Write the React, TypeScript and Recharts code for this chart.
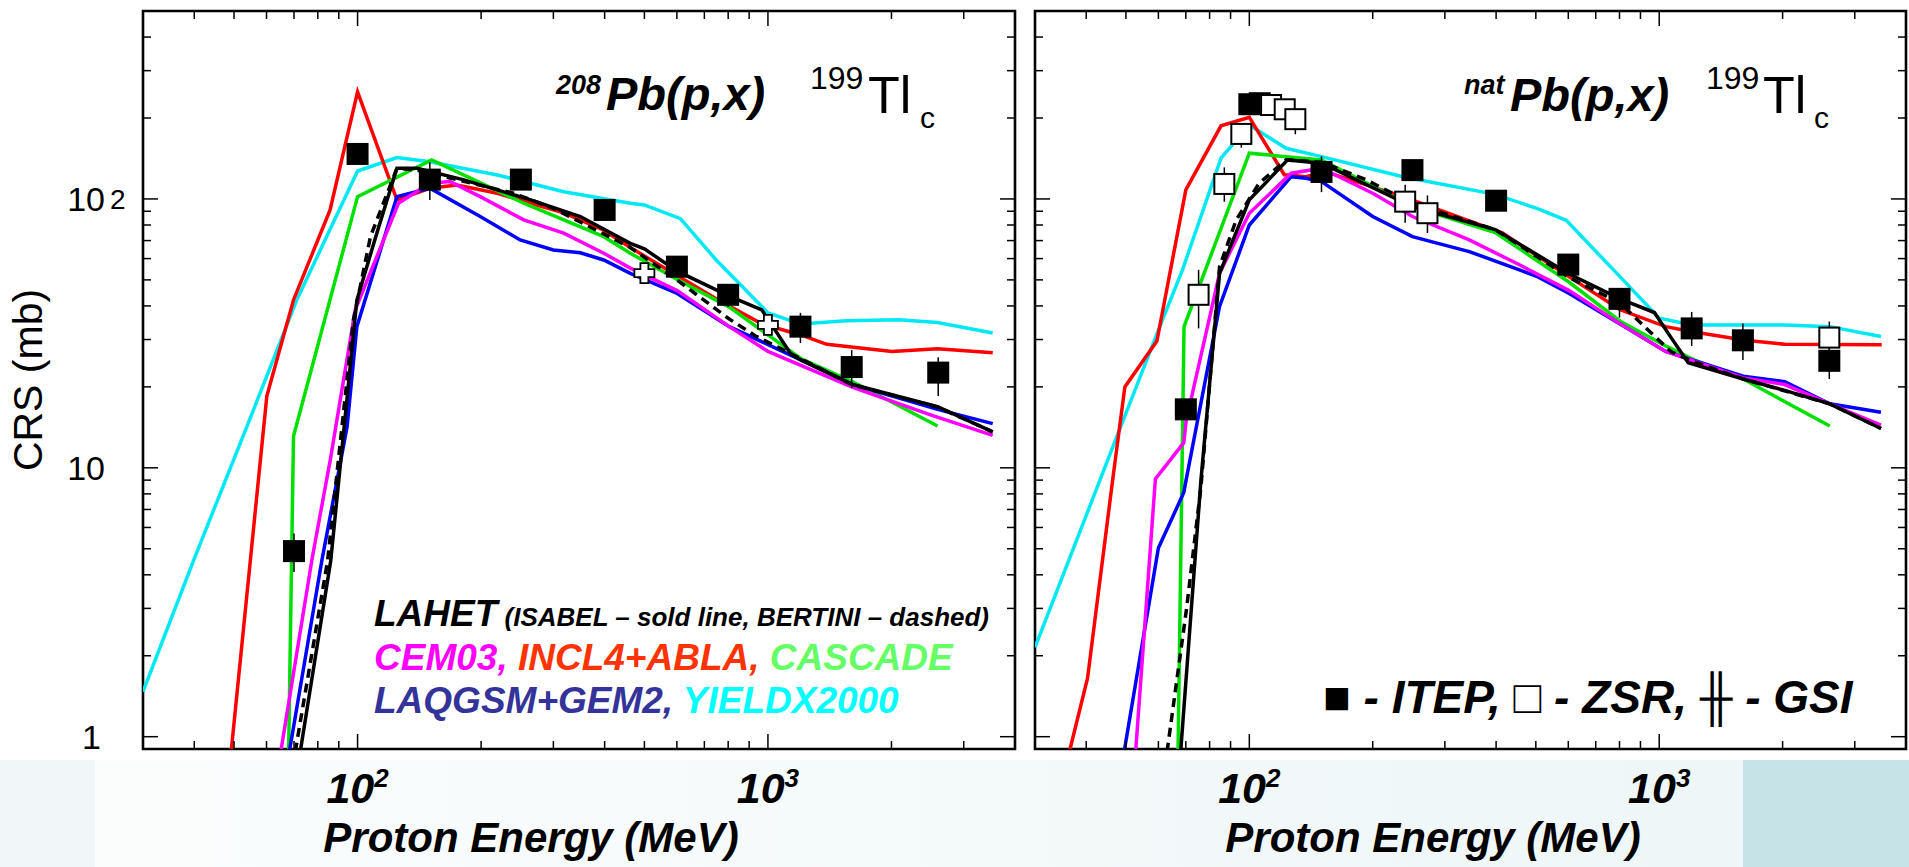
import React from 'react';
import { ComposedChart, Line, Scatter, XAxis, YAxis, ErrorBar, ReferenceArea } from 'recharts';

const FONT = '"Liberation Sans", Arial, Helvetica, sans-serif';

type P = [number, number];
type D = [number, number, number, number]; // energy, crs, err low, err high

// energy axis / crs axis
const xDomain = [30, 4000];
const yDomain = [0.9, 500];
const xTicks = [40, 50, 60, 70, 80, 90, 100, 200, 300, 400, 500, 600, 700, 800, 900, 1000, 2000, 3000];
const yTicks = [1, 2, 3, 4, 5, 6, 7, 8, 9, 10, 20, 30, 40, 50, 60, 70, 80, 90, 100, 200, 300, 400];

// ---- 208Pb(p,x) 199Tl ----
const isabelA: P[] = [[72.5, 0.88], [86, 4.5], [99.6, 42], [111.4, 74.6], [124.7, 130], [139.6, 130], [181.6, 117.7], [264, 99.2], [349, 86], [462, 68.4], [500, 65.2], [601, 53.9], [805, 43.5], [966, 38.7], [1137, 26.5], [1202, 25.2], [1610, 20.4], [2590, 16.9], [3530, 13.6]];
const bertiniA: P[] = [[70.5, 0.88], [84.5, 4.5], [97.7, 35.5], [107.5, 72.4], [124.7, 130], [139.6, 128], [206, 111], [240, 105], [300, 92.3], [462, 66], [600, 50], [800, 36], [931, 31], [1200, 25.5], [1600, 20.4], [2600, 16.8], [3530, 13.6]];
const cemA: P[] = [[65, 0.88], [77.4, 4.55], [85.8, 10.7], [98.7, 38.7], [125.8, 96.4], [150, 114.4], [168, 116], [199, 102], [254, 83.6], [318, 74.6], [398, 62.8], [462, 55.3], [601, 45.6], [805, 33.5], [1000, 27.1], [1610, 19.9], [2500, 15.7], [3530, 13.2]];
const inclA: P[] = [[49.2, 0.88], [60.1, 18.5], [69.8, 42.1], [85.7, 91], [100, 250], [124.7, 99.2], [150, 109.6], [174.6, 112.7], [219, 105], [264, 96.4], [318, 88.7], [397, 76.7], [463, 65.8], [519, 59.3], [748, 42.5], [966, 34.3], [1202, 31.2], [1391, 28.8], [2006, 27.1], [2589, 27.7], [3531, 26.8]];
const cascadeA: P[] = [[67.9, 0.85], [69.8, 13.1], [100, 102], [151.6, 139.7], [254, 96.4], [398, 72.4], [462, 62.8], [601, 50.2], [805, 39.6], [1202, 25.5], [1610, 20.9], [2590, 14.3]];
const laqgsmA: P[] = [[68.2, 0.88], [81.9, 4.55], [94.3, 14.2], [99.6, 33.5], [124.7, 102], [150, 109.6], [199, 86], [249, 70.4], [300, 64.6], [349, 63.1], [398, 59.3], [462, 52.9], [601, 44.5], [805, 33.5], [1202, 25.2], [1610, 20.4], [2590, 16.5], [3530, 14.6]];
const yieldxA: P[] = [[30, 1.47], [39.9, 4.55], [53.7, 14.2], [71.1, 42.1], [100, 127], [124.7, 142.5], [150, 137.6], [219, 122.8], [318, 106.4], [462, 96.4], [500, 95], [612, 84.5], [748, 59.3], [1000, 37.7], [1202, 34.3], [1552, 35.2], [2080, 35.5], [2590, 34.7], [3530, 31.7]];
const itepA: D[] = [[70, 4.9, 0.8, 0.8], [100, 147, 0, 0], [150, 118, 19, 19], [250, 118, 6, 6], [400, 91, 8, 5], [600, 56, 5, 5], [800, 44, 4.4, 2.5], [1200, 33.5, 4.4, 4.2], [1600, 23.7, 3.9, 3.7], [2600, 22.6, 4.1, 3.2]];
const gsiA: P[] = [[500, 53], [1000, 34]];

// ---- natPb(p,x) 199Tl ----
const isabelB: P[] = [[68, 0.88], [76.2, 9.0], [84.6, 52.9], [100, 99.2], [124, 139.7], [150, 135.8], [250, 93.6], [398, 76.9], [603, 52.6], [803, 42.5], [973, 37.8], [1069, 30.5], [1177, 24.6], [1603, 21.4], [2024, 19.4], [2607, 17.3], [3475, 14.0]];
const bertiniB: P[] = [[63, 0.88], [70.3, 3.0], [76.2, 8.5], [84.6, 56], [92.9, 83.6], [105.7, 114.4], [123, 139.7], [150, 137], [193, 117.7], [250, 96], [398, 77], [603, 51], [803, 41], [931, 33], [1069, 27], [1200, 25], [1603, 21.4], [2607, 17.3], [3475, 14.0]];
const cemB: P[] = [[52.8, 0.88], [59, 9.1], [69.2, 12.4], [70.1, 14.9], [84.6, 52.9], [100, 88.5], [126.5, 124.6], [150, 130], [200, 105], [250, 86], [344, 70.4], [456, 56.9], [603, 45.6], [803, 34.3], [1037, 27.1], [1603, 21.6], [2024, 20.4], [2607, 17.3], [3475, 14.4]];
const inclB: P[] = [[36.4, 0.88], [40.3, 1.65], [46.4, 9.0], [49.7, 20], [59.5, 29.6], [70, 108], [85.3, 187], [100, 201], [121.7, 123], [137.4, 121], [153.8, 126], [237, 102], [415, 74.6], [603, 51.3], [803, 38.7], [1037, 33.5], [1216, 32], [1620, 29.8], [2024, 28.8], [3490, 28.7]];
const cascadeB: P[] = [[67, 0.88], [69.3, 33.5], [100, 147.9], [150, 139.7], [250, 93.6], [398, 75], [603, 49], [803, 35.1], [1037, 28.4], [1216, 25.2], [1603, 21.4], [2606, 14.3]];
const laqgsmB: P[] = [[49.5, 0.88], [60, 5.03], [69.2, 8.09], [70.1, 9.0], [84.6, 39.8], [100, 80], [126.5, 121], [137.4, 119.4], [150, 116], [200, 86], [250, 72.4], [344, 63.7], [456, 54.5], [506, 51.3], [603, 44.5], [1037, 27.1], [1603, 21.9], [2024, 20.9], [2607, 17.3], [3475, 16.1]];
const yieldxB: P[] = [[30, 2.15], [48, 13.6], [60, 32.5], [68.7, 54.5], [85.3, 141.7], [100, 188.4], [123, 154.3], [150, 143.7], [237, 121], [398, 104], [505, 92], [593, 83.3], [803, 51.3], [1000, 36], [1203, 34], [2024, 34], [2607, 33.5], [3475, 30.8]];
const itepB: D[] = [[70, 16.5, 0, 0], [100, 225, 0, 0], [150, 126, 20, 18], [250, 128, 0, 0], [400, 98.5, 0, 0], [600, 57, 4, 4], [800, 42.5, 6.3, 4], [1200, 33, 4.6, 5], [1600, 29.8, 4.6, 4.6], [2600, 25, 3.6, 3.4]];
const zsrB: D[] = [[75.2, 44, 11, 10.5], [86.9, 113.7, 16.1, 17.3], [95.6, 174.5, 19.5, 16.5], [106, 227, 0, 0], [113, 223.5, 0, 0], [122, 215.5, 0, 0], [129.5, 198, 24, 0], [240, 97.7, 16.1, 15.3], [272, 88.5, 13.8, 14.5], [2600, 30.5, 4.1, 4.5]];

const line = (d: P[]) => d.map(([x, y]) => ({ x, y }));
const dots = (d: D[]) => d.map(([x, y, lo, hi]) => ({ x, y, err: [lo, hi] }));

const isMajor = (v: number) => Math.abs(Math.log10(v) - Math.round(Math.log10(v))) < 1e-9;

const TOP = 11;
const BOTTOM = 749;

function XTick(props: any) {
  const { x, payload } = props;
  const v = Number(payload?.value);
  const major = isMajor(v);
  const len = major ? 15 : 8;
  return (
    <g>
      <line x1={x} x2={x} y1={BOTTOM} y2={BOTTOM - len} stroke="#000" strokeWidth={1.5} />
      <line x1={x} x2={x} y1={TOP} y2={TOP + len} stroke="#000" strokeWidth={1.5} />
      {major && (
        <text x={x} y={803} textAnchor="middle" fontFamily={FONT} fontWeight="bold" fontStyle="italic" fontSize={43} fill="#000">
          10<tspan fontSize={26} dy={-16}>{Math.round(Math.log10(v))}</tspan>
        </text>
      )}
    </g>
  );
}

function makeYTick(left: number, right: number, labels: boolean) {
  return function YTick(props: any) {
    const { y, payload } = props;
    const v = Number(payload?.value);
    const major = isMajor(v);
    const len = major ? 15 : 8;
    const txt = { fontFamily: FONT, fontSize: 34, fill: '#000' };
    return (
      <g>
        <line x1={left} x2={left + len} y1={y} y2={y} stroke="#000" strokeWidth={1.5} />
        <line x1={right} x2={right - len} y1={y} y2={y} stroke="#000" strokeWidth={1.5} />
        {labels && v === 1 && (
          <text x={101} y={y + 12} textAnchor="end" {...txt}>1</text>
        )}
        {labels && v === 10 && (
          <text x={105} y={y + 12} textAnchor="end" {...txt}>10</text>
        )}
        {labels && v === 100 && (
          <g>
            <text x={105} y={y + 12} textAnchor="end" {...txt}>10</text>
            <text x={110} y={y + 10} {...txt} fontSize={28}>2</text>
          </g>
        )}
      </g>
    );
  };
}

const filledSquare = (p: any) => <rect x={p.cx - 11} y={p.cy - 11} width={22} height={22} fill="#000" />;
const openSquare = (p: any) => (
  <rect x={p.cx - 10} y={p.cy - 10} width={20} height={20} fill="#fff" stroke="#000" strokeWidth={2} />
);
const openCross = (p: any) => {
  const a = 4;
  const b = 10;
  const { cx, cy } = p;
  const d = `M${cx - a},${cy - b} L${cx + a},${cy - b} L${cx + a},${cy - a} L${cx + b},${cy - a} L${cx + b},${cy + a} L${cx + a},${cy + a} L${cx + a},${cy + b} L${cx - a},${cy + b} L${cx - a},${cy + a} L${cx - b},${cy + a} L${cx - b},${cy - a} L${cx - a},${cy - a} Z`;
  return <path d={d} fill="#fff" stroke="#000" strokeWidth={1.8} />;
};

const COLORS = {
  lahet: '#000000',
  cem: '#ff00ff',
  incl: '#ff0000',
  cascade: '#00e000',
  laqgsm: '#0000ff',
  yieldx: '#00e8f4',
};

interface PanelProps {
  width: number;
  left: number;
  right: number;
  yLabels: boolean;
  isabel: P[];
  bertini: P[];
  cem: P[];
  incl: P[];
  cascade: P[];
  laqgsm: P[];
  yieldx: P[];
  itep: D[];
  zsr?: D[];
  gsi?: P[];
}

function Panel(p: PanelProps) {
  const plotRight = p.width - p.right;
  const sw = 3.5;
  return (
    <ComposedChart width={p.width} height={867} margin={{ top: TOP, left: p.left - 1, right: p.right, bottom: 867 - BOTTOM - 1 }}>
      <XAxis
        type="number"
        dataKey="x"
        scale="log"
        domain={xDomain}
        allowDataOverflow
        ticks={xTicks}
        interval={0}
        height={1}
        axisLine={false}
        tickLine={false}
        tick={<XTick />}
      />
      <YAxis
        type="number"
        dataKey="y"
        scale="log"
        domain={yDomain}
        allowDataOverflow
        ticks={yTicks}
        interval={0}
        width={1}
        axisLine={false}
        tickLine={false}
        tick={makeYTick(p.left, plotRight, p.yLabels)}
      />
      <Line data={line(p.yieldx)} dataKey="y" stroke={COLORS.yieldx} strokeWidth={sw} dot={false} isAnimationActive={false} />
      <Line data={line(p.incl)} dataKey="y" stroke={COLORS.incl} strokeWidth={sw} dot={false} isAnimationActive={false} />
      <Line data={line(p.cascade)} dataKey="y" stroke={COLORS.cascade} strokeWidth={sw} dot={false} isAnimationActive={false} />
      <Line data={line(p.laqgsm)} dataKey="y" stroke={COLORS.laqgsm} strokeWidth={sw} dot={false} isAnimationActive={false} />
      <Line data={line(p.cem)} dataKey="y" stroke={COLORS.cem} strokeWidth={sw} dot={false} isAnimationActive={false} />
      <Line data={line(p.bertini)} dataKey="y" stroke={COLORS.lahet} strokeWidth={sw} strokeDasharray="9 6" dot={false} isAnimationActive={false} />
      <Line data={line(p.isabel)} dataKey="y" stroke={COLORS.lahet} strokeWidth={sw} dot={false} isAnimationActive={false} />
      {p.gsi && <Scatter data={line(p.gsi)} shape={openCross} isAnimationActive={false} />}
      {p.zsr && (
        <Scatter data={dots(p.zsr)} shape={openSquare} isAnimationActive={false}>
          <ErrorBar dataKey="err" direction="y" width={0} stroke="#000" strokeWidth={1.5} />
        </Scatter>
      )}
      <Scatter data={dots(p.itep)} shape={filledSquare} isAnimationActive={false}>
        <ErrorBar dataKey="err" direction="y" width={0} stroke="#000" strokeWidth={1.5} />
      </Scatter>
      <ReferenceArea x1={xDomain[0]} x2={xDomain[1]} y1={yDomain[0]} y2={yDomain[1]} fill="none" fillOpacity={0} stroke="#000" strokeWidth={2.6} ifOverflow="visible" />
    </ComposedChart>
  );
}

const bi = { fontFamily: FONT, fontWeight: 'bold' as const, fontStyle: 'italic' as const };
const rg = { fontFamily: FONT };

export default function App() {
  return (
    <div style={{ position: 'absolute', left: 0, top: 0, width: 1909, height: 867, background: '#fff', overflow: 'hidden' }}>
      <div
        style={{
          position: 'absolute',
          left: 0,
          top: 760,
          width: 1909,
          height: 107,
          background:
            'linear-gradient(to right, #f1f7f9 0px, #f1f7f9 95px, #fbfdfd 95px, #eef6f7 1743px, #c6e4e7 1743px, #c6e4e7 1909px)',
        }}
      />
      <div style={{ position: 'absolute', left: 0, top: 0 }}>
        <Panel
          width={1030}
          left={143}
          right={15}
          yLabels
          isabel={isabelA}
          bertini={bertiniA}
          cem={cemA}
          incl={inclA}
          cascade={cascadeA}
          laqgsm={laqgsmA}
          yieldx={yieldxA}
          itep={itepA}
          gsi={gsiA}
        />
      </div>
      <div style={{ position: 'absolute', left: 1025, top: 0 }}>
        <Panel
          width={884}
          left={10}
          right={3}
          yLabels={false}
          isabel={isabelB}
          bertini={bertiniB}
          cem={cemB}
          incl={inclB}
          cascade={cascadeB}
          laqgsm={laqgsmB}
          yieldx={yieldxB}
          itep={itepB}
          zsr={zsrB}
        />
      </div>
      <svg width={1909} height={867} style={{ position: 'absolute', left: 0, top: 0, pointerEvents: 'none' }}>
        <text transform="translate(42,380) rotate(-90)" textAnchor="middle" fontSize={41} {...rg}>CRS (mb)</text>

        <text x={556} y={94} fontSize={27} {...bi}>208</text>
        <text x={606} y={110} fontSize={47} {...bi}>Pb(p,x)</text>
        <text x={810} y={89} fontSize={32} {...rg}>199</text>
        <text x={868} y={113} fontSize={52} {...rg}>Tl</text>
        <text x={920} y={128} fontSize={30} {...rg}>c</text>

        <text x={1464} y={94} fontSize={27} {...bi}>nat</text>
        <text x={1510} y={111} fontSize={47} {...bi}>Pb(p,x)</text>
        <text x={1706} y={89} fontSize={32} {...rg}>199</text>
        <text x={1763} y={113} fontSize={52} {...rg}>Tl</text>
        <text x={1814} y={128} fontSize={30} {...rg}>c</text>

        <text x={374} y={626} fontSize={37} {...bi} fill="#000">
          LAHET<tspan fontSize={26}> (ISABEL – sold line, BERTINI – dashed)</tspan>
        </text>
        <text x={374} y={670} fontSize={37} {...bi}>
          <tspan fill="#ff00ff">CEM03, </tspan>
          <tspan fill="#ff3300">INCL4+ABLA, </tspan>
          <tspan fill="#66ff66">CASCADE</tspan>
        </text>
        <text x={374} y={713} fontSize={37} {...bi}>
          <tspan fill="#333399">LAQGSM+GEM2, </tspan>
          <tspan fill="#00ffff">YIELDX2000</tspan>
        </text>

        <text x={1323} y={713} fontSize={46} {...bi} fill="#000">■ - ITEP, □ - ZSR, ╫ - GSI</text>

        <text x={531} y={852} textAnchor="middle" fontSize={42} {...bi}>Proton Energy (MeV)</text>
        <text x={1433} y={852} textAnchor="middle" fontSize={42} {...bi}>Proton Energy (MeV)</text>
      </svg>
    </div>
  );
}
